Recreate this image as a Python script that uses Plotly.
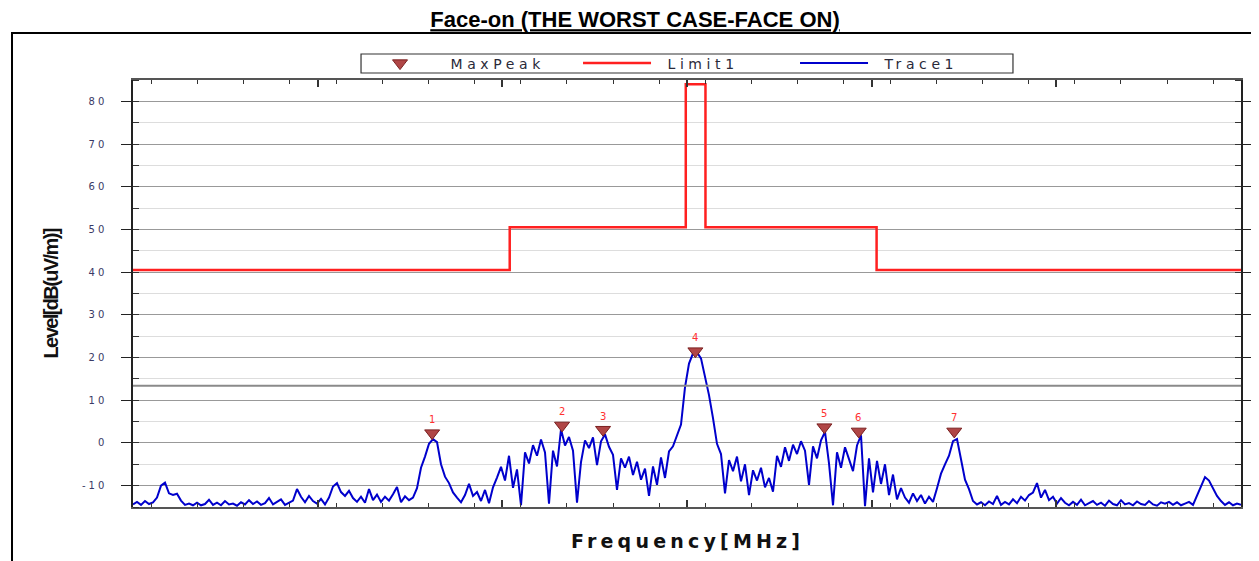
import numpy as np
import plotly.graph_objects as go

# ---------------- data ----------------
title_text = "Face-on (THE WORST CASE-FACE ON)"
x_title = "Frequency[MHz]"
y_title = "Level[dB(uV/m)]"
legend_names = ["MaxPeak", "Limit1", "Trace1"]

f_start, f_stop = 13.11, 14.01          # sweep span [MHz]

trace1_level = [
    -14.4, -13.8, -14.5, -13.6, -14.3, -13.9, -12.8, -10.0, -9.3, -11.8,
    -12.2, -11.9, -13.5, -14.5, -14.2, -14.6, -14.0, -14.6, -14.3, -13.3,
    -14.5, -14.0, -14.6, -13.6, -14.4, -14.2, -14.7, -13.9, -14.4, -13.4,
    -14.3, -13.7, -14.5, -14.1, -12.9, -14.4, -13.8, -13.2, -14.5, -14.0,
    -13.5, -10.8, -12.6, -13.9, -12.4, -13.6, -14.2, -13.1, -14.4, -12.8,
    -10.2, -9.4, -11.5, -12.4, -11.2, -12.9, -13.8, -12.6, -14.0, -10.8,
    -13.4, -12.1, -13.8, -12.6, -13.5, -12.0, -10.3, -13.9, -12.5, -13.4,
    -12.8, -10.6, -5.8, -3.2, -0.2, 0.9, 0.2, -5.0, -7.9, -9.4,
    -11.6, -12.8, -13.9, -12.2, -9.6, -12.4, -11.5, -13.6, -11.0, -14.1,
    -10.4, -8.1, -5.6, -8.8, -3.0, -10.5, -6.2, -14.6, -2.2, -4.8,
    -0.5, -3.0, 0.8, -2.2, -14.2, -1.8, -5.5, 3.2, -0.6, 1.4,
    -1.8, -14.0, -4.5, 0.6, -1.2, 1.3, -5.2, 0.4, 2.0, -0.9,
    -2.8, -11.0, -3.6, -5.8, -3.2, -7.5, -4.4, -8.6, -6.0, -12.4,
    -5.5, -9.8, -3.4, -8.2, -2.0, -0.8, 1.6, 4.3, 13.0, 18.6,
    21.0, 21.2, 19.8, 15.5, 11.2, 5.8, -0.2, -2.6, -11.8, -4.0,
    -6.6, -3.2, -9.0, -5.0, -12.2, -6.4, -8.8, -5.8, -10.4, -8.2,
    -11.4, -3.0, -5.6, -1.0, -4.2, -0.4, -2.6, 0.4, -1.8, -9.8,
    -0.8, -3.6, 0.6, 2.6, -4.8, -14.6, -2.2, -5.8, -1.0, -3.8,
    -6.6, -0.6, 1.8, -14.8, -3.6, -11.6, -4.2, -9.6, -5.0, -12.2,
    -7.4, -13.2, -10.6, -12.8, -14.0, -11.8, -13.6, -12.2, -14.2, -12.6,
    -13.8, -10.6, -7.2, -5.0, -3.0, 0.4, 0.9, -3.8, -8.6, -10.8,
    -13.6, -14.4, -13.9, -14.6, -13.7, -14.3, -12.4, -14.5, -13.8, -14.4,
    -13.2, -14.1, -12.6, -13.5, -12.2, -11.6, -9.4, -12.8, -11.0, -13.4,
    -12.6, -14.2, -12.9, -14.0, -14.6, -13.8, -14.5, -13.3, -14.6, -14.1,
    -13.6, -14.5, -14.0, -14.7, -13.5, -14.3, -14.6, -13.4, -14.4, -14.1,
    -14.6, -13.7, -14.3, -14.5, -13.6, -14.4, -14.7, -13.9, -14.2, -13.8,
    -14.5, -13.9, -14.6, -14.2, -13.8, -14.5, -12.4, -10.4, -8.0, -8.8,
    -10.6, -12.4, -13.6, -14.5, -13.9, -14.6, -14.2, -14.5,
]

# Limit1 (stepped limit line)
limit_freq = [13.11, 13.416, 13.416, 13.559, 13.559, 13.575, 13.575, 13.714, 13.714, 14.01]
limit_level = [40.5, 40.5, 50.5, 50.5, 84.0, 84.0, 50.5, 50.5, 40.5, 40.5]

# MaxPeak markers
peak_id = ["1", "2", "3", "4", "5", "6", "7"]
peak_freq = [13.353, 13.4585, 13.4918, 13.5668, 13.6716, 13.6995, 13.7771]
peak_level = [2.3, 4.1, 3.1, 21.5, 3.7, 2.7, 2.7]

display_line = 13.4
y_range = [-15, 85]
y_ticks = [-10, 0, 10, 20, 30, 40, 50, 60, 70, 80]

# ---------------- figure ----------------
def spaced(text, px):
    return f'<span style="letter-spacing:{px}px">{text}</span>'

def legend_label(text):
    return '<span style="letter-spacing:7px">&nbsp;</span>' + spaced(text, 4.6)

trace1_freq = np.linspace(f_start, f_stop, len(trace1_level))

fig = go.Figure()

fig.add_trace(go.Scatter(
    x=trace1_freq, y=trace1_level, mode="lines", name=legend_label(legend_names[2]),
    line=dict(color="#0000cc", width=2), legendrank=3,
))
fig.add_trace(go.Scatter(
    x=limit_freq, y=limit_level, mode="lines", name=legend_label(legend_names[1]),
    line=dict(color="#ff2020", width=2.5), legendrank=2,
))
fig.add_trace(go.Scatter(
    x=peak_freq, y=peak_level, mode="markers", name=legend_label(legend_names[0]),
    marker=dict(symbol="triangle-down", size=13, color="#b04646",
                line=dict(color="#7a2020", width=1)),
    legendrank=1,
))

fig.add_hline(y=display_line, line=dict(color="#8a8a8a", width=2))

for pid, pf, pl in zip(peak_id, peak_freq, peak_level):
    fig.add_annotation(x=pf, y=pl, text=spaced(pid, 1), showarrow=False, yshift=13.5,
                       font=dict(family="DejaVu Sans", size=10, color="#ff3030"))

# axis titles
fig.add_annotation(xref="paper", yref="paper", x=0.5, y=-0.0796, yanchor="middle",
                   text="<b>" + spaced(x_title, 4.2) + "</b>", showarrow=False,
                   font=dict(family="DejaVu Sans", size=19, color="#111111"))
fig.add_annotation(xref="paper", yref="paper", x=-0.0749, y=0.5, textangle=-90,
                   xanchor="center", yanchor="middle",
                   text="<b>" + spaced(y_title, -1.6) + "</b>", showarrow=False,
                   font=dict(family="Liberation Sans Narrow, Liberation Sans",
                             size=20, color="#111111"))

# outer frame and legend box
fig.add_shape(type="rect", xref="paper", yref="paper",
              x0=-0.1092, x1=1.03, y0=-0.16, y1=1.1101,
              line=dict(color="black", width=2), layer="below")
fig.add_shape(type="rect", xref="paper", yref="paper",
              x0=0.2058, x1=0.7942, y0=1.0164, y1=1.0609,
              line=dict(color="#333333", width=1.2), fillcolor="white", layer="below")

fig.update_layout(
    width=1251, height=553,
    margin=dict(l=125, r=18, t=72, b=54, autoexpand=False),
    paper_bgcolor="white", plot_bgcolor="white",
    font=dict(family="Liberation Sans, Arial, sans-serif", color="#333333"),
    title=dict(text="<b><u>" + title_text + "</u></b>", x=0.5012, xref="container",
               xanchor="center", y=0.9792, yanchor="middle",
               font=dict(family="Liberation Sans, Arial", size=22, color="black")),
    showlegend=True,
    legend=dict(orientation="h", x=0.2058, xanchor="left", y=1.0386, yanchor="middle",
                entrywidth=134, entrywidthmode="pixels", itemwidth=68,
                borderwidth=0, bgcolor="rgba(0,0,0,0)",
                font=dict(family="DejaVu Sans", size=14, color="#2a2a3a")),
)

fig.update_xaxes(
    range=[f_start, f_stop], showgrid=False, zeroline=False,
    showline=True, linecolor="#555555", linewidth=1.5, mirror="allticks",
    ticks="inside", tick0=f_start, dtick=0.15, ticklen=7, tickwidth=1.5, tickcolor="#333333",
    showticklabels=False,
    minor=dict(ticks="inside", dtick=0.0375, ticklen=4, tickwidth=1, tickcolor="#333333"),
)
fig.update_yaxes(
    range=y_range, tickmode="array", tickvals=y_ticks,
    ticktext=[spaced(str(v), 3) for v in y_ticks],
    showgrid=True, gridcolor="#999999", gridwidth=1,
    zeroline=False,
    showline=True, linecolor="#222222", linewidth=1.5, mirror="allticks",
    ticks="outside", ticklen=10, tickwidth=1.2, tickcolor="#222222",
    ticklabelstandoff=12,
    tickfont=dict(family="DejaVu Sans", size=10, color="#3a3a66"),
    minor=dict(ticks="inside", tick0=0, dtick=5, ticklen=6, tickwidth=1, tickcolor="#333333",
               showgrid=True, gridcolor="#dddddd", gridwidth=1),
)

fig.write_html("out.html")
